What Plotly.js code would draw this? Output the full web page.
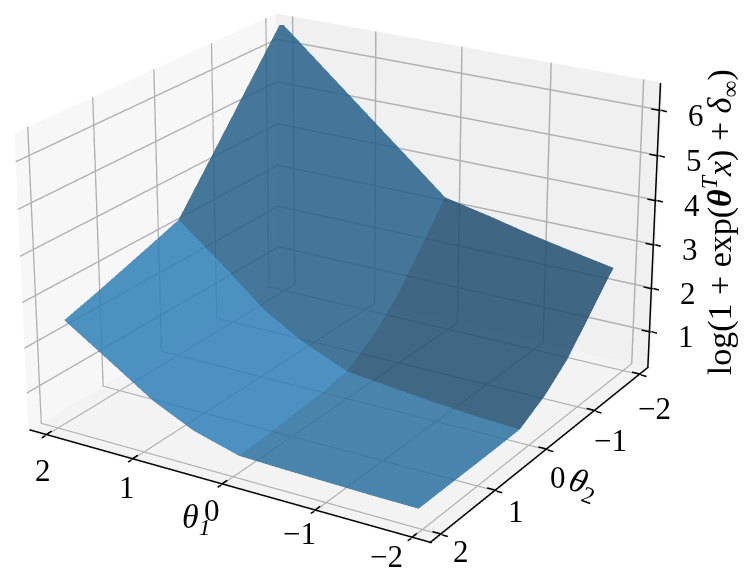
<!DOCTYPE html>
<html>
<head>
<meta charset="utf-8">
<script src="https://cdn.plot.ly/plotly-3.0.1.min.js"></script>
<style>
html,body{margin:0;padding:0;background:#fff;overflow:hidden;width:747px;height:569px}
#plotArea{position:absolute;left:-1147px;top:-882px;width:2988px;height:2276px}
</style>
</head>
<body>
<div id="plotArea"></div>
<script>
// grid
var theta1 = [-1.9, -1.4, -0.95, -0.5, 0, 0.5, 0.95, 1.4, 1.95];
var theta2 = [-1.9, -1.4, -0.95, -0.5, 0, 0.5, 0.95, 1.4, 1.9];
var loss = [
    [2.56, 2.75, 2.93, 3.14, 3.35, 4.20, 4.96, 5.72, 6.65],
    [1.85, 2.02, 2.20, 2.36, 2.50, 3.38, 4.12, 4.90, 5.78],
    [1.22, 1.36, 1.52, 1.65, 1.75, 2.58, 3.30, 4.10, 4.99],
    [0.78, 0.85, 0.95, 1.08, 1.20, 1.90, 2.60, 3.35, 4.20],
    [0.45, 0.50, 0.58, 0.67, 0.78, 1.20, 1.72, 2.47, 3.33],
    [0.44, 0.47, 0.52, 0.58, 0.67, 1.05, 1.55, 2.30, 3.10],
    [0.44, 0.46, 0.49, 0.54, 0.62, 0.94, 1.42, 2.15, 2.90],
    [0.44, 0.45, 0.47, 0.51, 0.56, 0.86, 1.31, 1.98, 2.70],
    [0.44, 0.45, 0.47, 0.49, 0.52, 0.80, 1.22, 1.80, 2.50]
];
var thetaTicks = [-2, -1, 0, 1, 2];
var zTicks = [1, 2, 3, 4, 5, 6];

// label offsets from the axis, in pixels, one per tick
var x1LabelDx = [-25, -15, -9, -5, -2];
var x1LabelDy = [18, 22, 25, 28, 35];
var x2LabelDx = [13, 15, 10, 19, 19];
var x2LabelDy = [34, 29, 27, 20, 16];

var lo = -2.2, hi = 2.2, zLo = 0.15, zHi = 6.6;
var nudge = 0.015; // keeps the axis lines off the panes, they flicker otherwise
var fontName = "Liberation Serif";

// one trace per quadrant, the shade changes at the kinks
function quadrant(i0, i1, j0, j1, color) {
    return {
        type: "surface",
        x: theta1.slice(j0, j1),
        y: theta2.slice(i0, i1),
        z: loss.slice(i0, i1).map(function (row) { return row.slice(j0, j1); }),
        colorscale: [[0, color], [1, color]],
        showscale: false,
        opacity: 0.85,
        hoverinfo: "skip",
        lighting: {ambient: 1, diffuse: 0, specular: 0, roughness: 1, fresnel: 0}
    };
}

// plotly puts the z axis on the wrong corner, so axes and ticks are drawn as lines
var ax = {x: [], y: [], z: []};
function seg(x0, y0, z0, x1, y1, z1) {
    ax.x.push(x0, x1, null);
    ax.y.push(y0, y1, null);
    ax.z.push(z0, z1, null);
}
seg(lo, hi - nudge, zLo + nudge, hi, hi - nudge, zLo + nudge);
seg(lo + nudge, lo, zLo + nudge, lo + nudge, hi, zLo + nudge);
seg(lo + nudge, lo + nudge, zLo, lo + nudge, lo + nudge, zHi);
thetaTicks.forEach(function (t) {
    seg(t, hi - 0.1, zLo + nudge, t, hi, zLo + nudge);
    seg(lo, t, zLo + nudge, lo + 0.1, t, zLo + nudge);
});
zTicks.forEach(function (t) {
    seg(lo + 0.1, lo + nudge, t, lo, lo + nudge, t);
});

var data = [
    quadrant(0, 5, 0, 5, "#204e70"),
    quadrant(0, 5, 4, 9, "#246088"),
    quadrant(4, 9, 0, 5, "#2a70a0"),
    quadrant(4, 9, 4, 9, "#2e80b8"),
    {type: "scatter3d", mode: "lines", x: ax.x, y: ax.y, z: ax.z, hoverinfo: "skip",
     line: {color: "#000000", width: 3}, showlegend: false}
];

function axis(range, ticks, pane) {
    return {
        range: range,
        tickvals: ticks,
        title: {text: ""},
        showticklabels: false,
        showgrid: true,
        gridcolor: "#b0b0b0",
        gridwidth: 3,
        zeroline: false,
        showline: false,
        ticks: "",
        showbackground: true,
        backgroundcolor: pane,
        showspikes: false
    };
}

function label(x, y, z, text, dx, dy, size, angle) {
    return {
        x: x, y: y, z: z, text: text, showarrow: false, xshift: dx, yshift: -dy,
        textangle: angle || 0, font: {family: fontName, size: size, color: "#000000"}
    };
}

// the scene clips lines at the box, so the outer half of a tick is an arrow
function tickStub(x, y, z, dx, dy) {
    return {
        x: x, y: y, z: z, text: " ", showarrow: true, arrowhead: 0, arrowwidth: 1.5,
        arrowcolor: "#000000", standoff: 0, ax: dx, ay: dy, font: {size: 1}
    };
}

var notes = [];
thetaTicks.forEach(function (t, i) {
    var s = t < 0 ? "\u2212" + (-t) : String(t);
    notes.push(label(t, hi, zLo, s, x1LabelDx[i], x1LabelDy[i], 31));
    notes.push(label(lo, t, zLo, s, x2LabelDx[i], x2LabelDy[i], 31));
    notes.push(tickStub(t, hi, zLo, -5, 3));
    notes.push(tickStub(lo, t, zLo, 7, 2));
});
zTicks.forEach(function (t) {
    notes.push(label(lo, lo, t, String(t), 35, 5, 31));
    notes.push(tickStub(lo, lo, t, 7, 2));
});
notes.push(label(0.4, hi, zLo, "<i>\u03b8</i><sub><i>1</i></sub>", 12, 44, 34));
notes.push(label(lo, 0, zLo, "<i>\u03b8</i><sub>2</sub>", 36, 35, 34, 20));
notes.push(label(lo, lo, 3.4, "log(1 + exp(<b><i>\u03b8</i></b><sup><i>T</i></sup><i>x</i>) + <i>\u03b4</i><sub>\u221e</sub>)", 63, -5, 34, -90));

var layout = {
    width: 2988,
    height: 2276,
    margin: {l: 0, r: 0, t: 0, b: 0},
    paper_bgcolor: "#ffffff",
    showlegend: false,
    scene: {
        domain: {x: [0, 1], y: [0, 1]},
        aspectmode: "manual",
        aspectratio: {x: 1, y: 1, z: 0.68},
        camera: {
            eye: {x: -2.88, y: 4.72, z: 2.21},
            center: {x: 0, y: 0, z: 0},
            up: {x: 0, y: 0, z: 1}
        },
        xaxis: axis([lo, hi], thetaTicks, "#f7f7f7"),
        yaxis: axis([lo, hi], thetaTicks, "#f0f0f0"),
        zaxis: axis([zLo, zHi], zTicks, "#f3f3f3"),
        annotations: notes
    }
};

Plotly.newPlot("plotArea", data, layout, {displayModeBar: false});
</script>
</body>
</html>
